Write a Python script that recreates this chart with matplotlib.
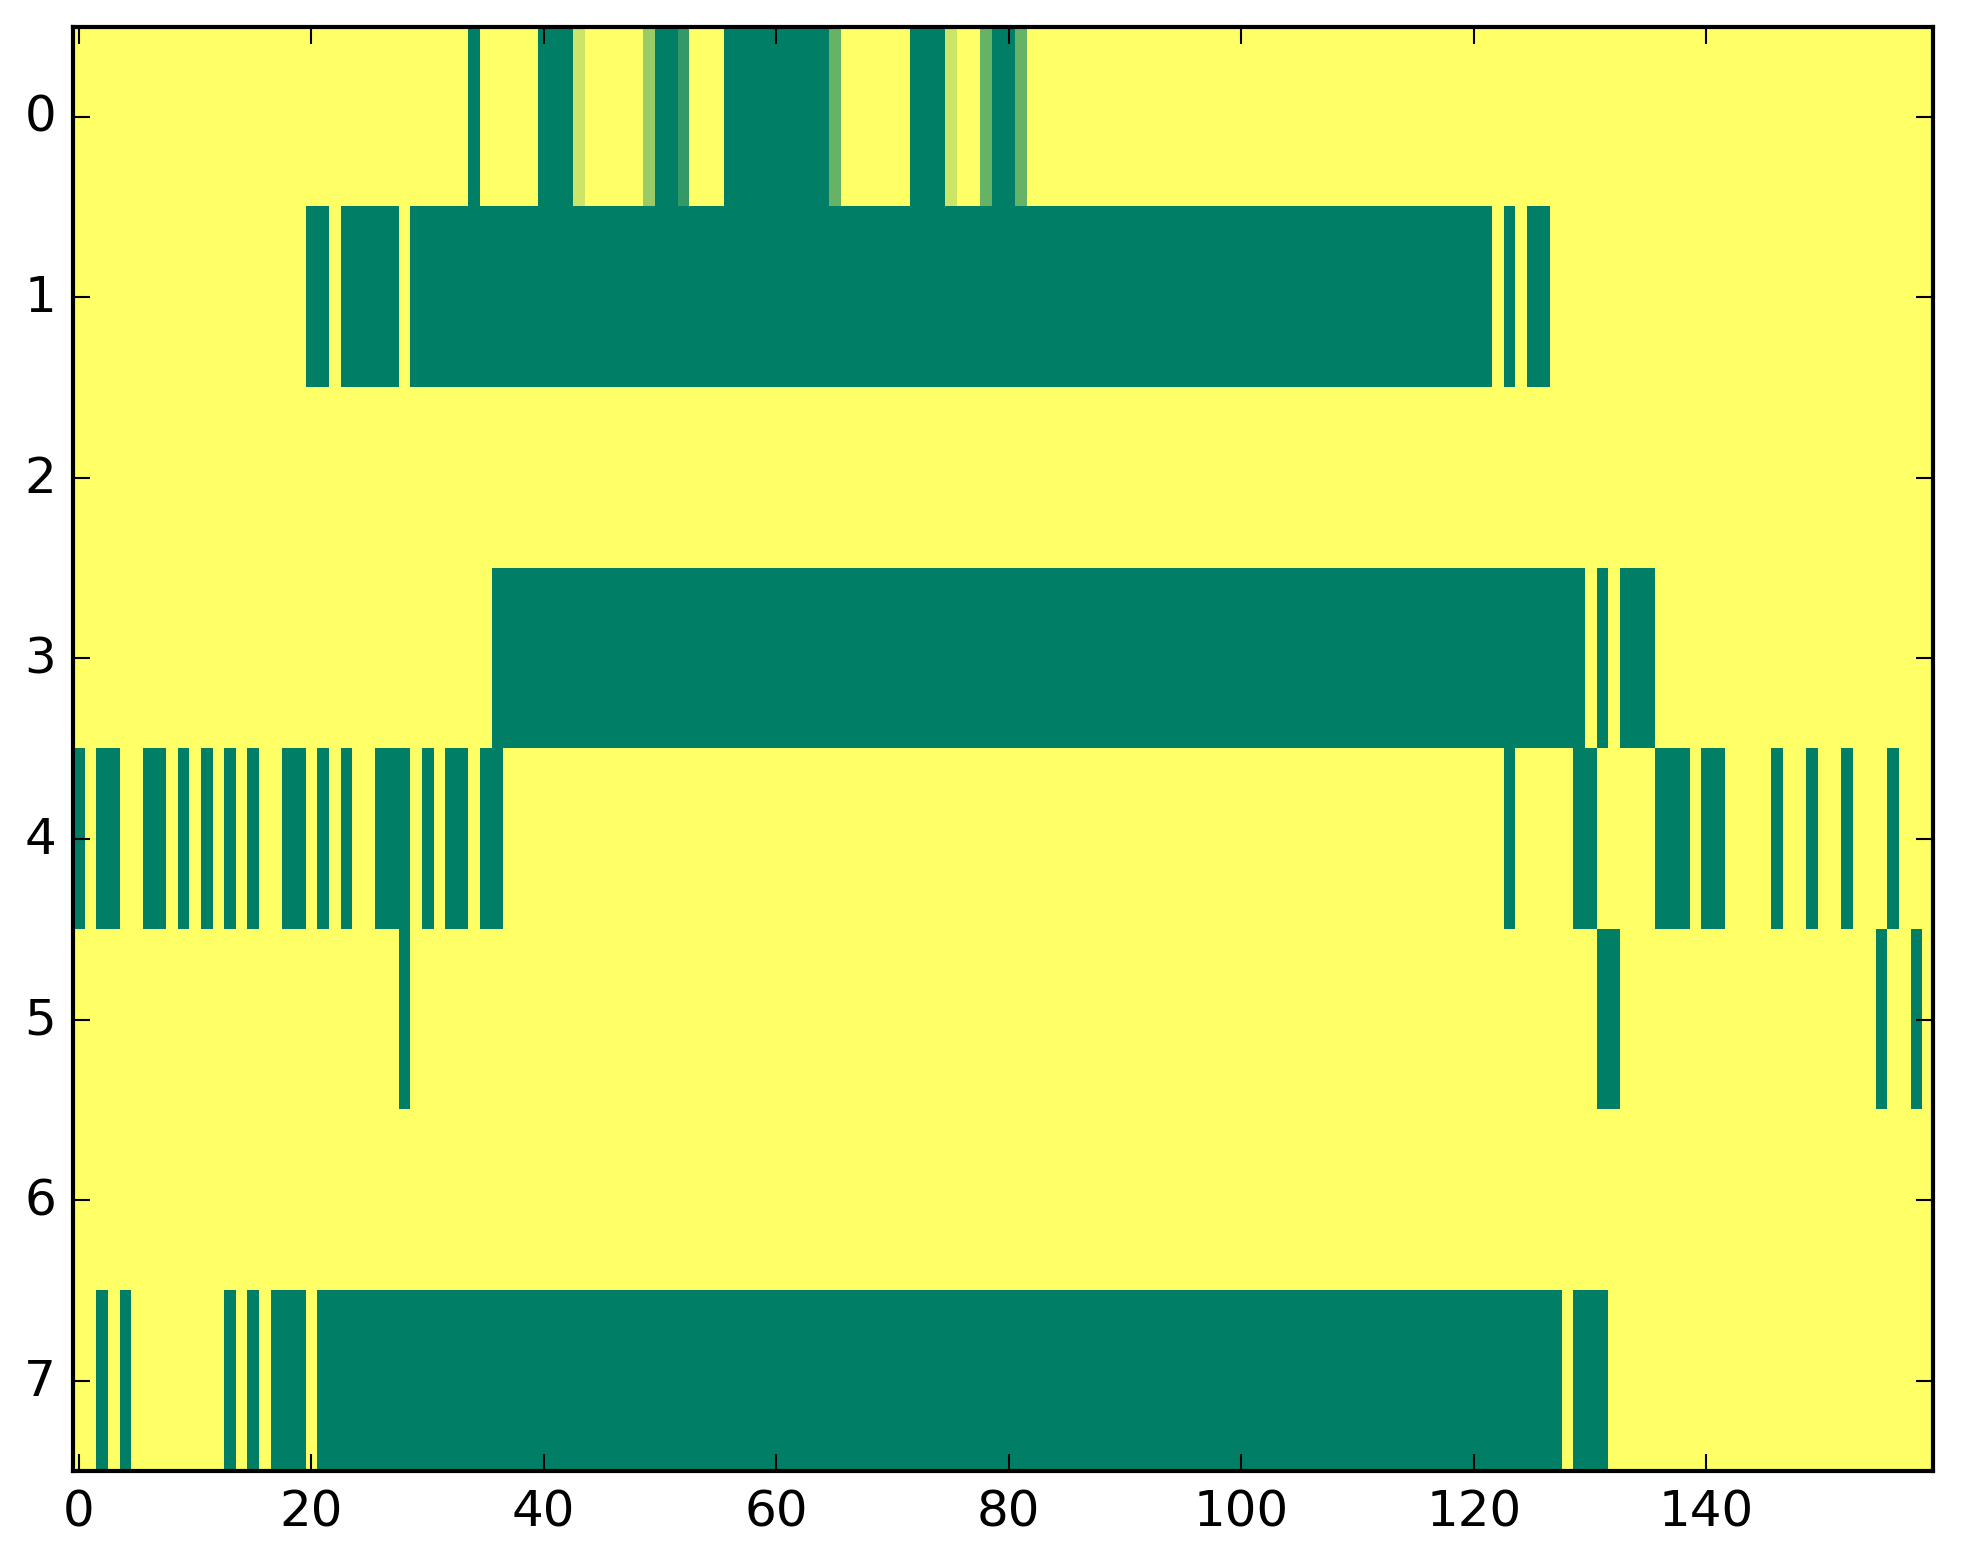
import numpy as np
import matplotlib
matplotlib.use('Agg')
import matplotlib.pyplot as plt

plt.style.use('classic')

n_rows = 8
n_cols = 160

# columns that are 0 (dark green) in each row, everything else is 1
row0_green = [34, 40, 41, 42, 50, 51, 56, 57, 58, 59, 60, 61, 62, 63, 64,
              72, 73, 74, 79, 80]
row0_part_cols = [43, 49, 52, 65, 75, 78, 81]
row0_part_vals = [0.8, 0.6, 0.2, 0.4, 0.8, 0.4, 0.4]
row1_green = [20, 21] + list(range(23, 28)) + list(range(29, 122)) + [123, 125, 126]
row2_green = []
row3_green = list(range(36, 130)) + [131, 133, 134, 135]
row4_green = [0, 2, 3, 6, 7, 9, 11, 13, 15, 18, 19, 21, 23, 26, 27, 28, 30,
              32, 33, 35, 36, 123, 129, 130, 136, 137, 138, 140, 141, 146,
              149, 152, 156]
row5_green = [28, 131, 132, 155, 158]
row6_green = []
row7_green = [2, 4, 13, 15, 17, 18, 19] + list(range(21, 128)) + [129, 130, 131]

green_rows = [row0_green, row1_green, row2_green, row3_green,
              row4_green, row5_green, row6_green, row7_green]

data = np.ones((n_rows, n_cols))
for r, cols in enumerate(green_rows):
    data[r, cols] = 0.0
data[0, row0_part_cols] = row0_part_vals

fig = plt.figure(figsize=(1963 / 300, 1564 / 300), dpi=300)
ax = fig.add_axes([0.0371, 0.0588, 0.9476, 0.9236])
ax.imshow(data, cmap='summer', vmin=0, vmax=1, interpolation='nearest',
          aspect='auto')
ax.set_xticks(np.arange(0, 141, 20))
ax.set_yticks(np.arange(0, 8))
ax.set_xlim(-0.5, n_cols - 0.5)
ax.set_ylim(n_rows - 0.5, -0.5)
ax.tick_params(labelsize=12)

fig.savefig('out.png', dpi=300)
